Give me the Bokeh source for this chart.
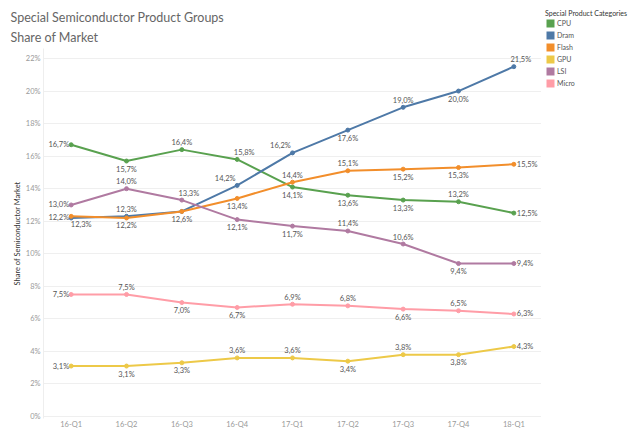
from bokeh.plotting import figure
from bokeh.layouts import row, column
from bokeh.models import (ColumnDataSource, FactorRange, Range1d, FixedTicker,
                          PrintfTickFormatter, Legend, LegendItem, Title)
from bokeh.core.properties import value
from bokeh.embed import file_html
from bokeh.resources import INLINE

quarters = ["16-Q1", "16-Q2", "16-Q3", "16-Q4", "17-Q1", "17-Q2", "17-Q3", "17-Q4", "18-Q1"]
categories = ["CPU", "Dram", "Flash", "GPU", "LSI", "Micro"]
cpu = [16.7, 15.7, 16.4, 15.8, 14.1, 13.6, 13.3, 13.2, 12.5]
dram = [12.2, 12.3, 12.6, 14.2, 16.2, 17.6, 19.0, 20.0, 21.5]
flash = [12.3, 12.2, 12.6, 13.4, 14.4, 15.1, 15.2, 15.3, 15.5]
gpu = [3.1, 3.1, 3.3, 3.6, 3.6, 3.4, 3.8, 3.8, 4.3]
lsi = [13.0, 14.0, 13.3, 12.1, 11.7, 11.4, 10.6, 9.4, 9.4]
micro = [7.5, 7.5, 7.0, 6.7, 6.9, 6.8, 6.6, 6.5, 6.3]
y_ticks = [0, 2, 4, 6, 8, 10, 12, 14, 16, 18, 20, 22]

series = [cpu, dram, flash, gpu, lsi, micro]
colors = ["#59a14f", "#4e79a7", "#f28e2b", "#edc948", "#b07aa1", "#ff9da7"]

# label placement per point (L=left, R=right, A=above, B=below, N=none)
placements = [
    ["L", "B", "A", "AR", "B", "B", "B", "A", "R"],
    ["L", "A", "B", "AL", "AL", "B", "A", "B", "AR"],
    ["BR", "B", "N", "B", "A", "A", "B", "B", "R"],
    ["L", "B", "B", "A", "A", "B", "A", "B", "R"],
    ["L", "A", "AR", "B", "B", "A", "A", "B", "R"],
    ["L", "A", "B", "B", "A", "A", "B", "A", "R"],
]
place_style = {
    "L": ("right", -2, 0),
    "R": ("left", 3, 0),
    "A": ("center", 0, -7),
    "B": ("center", 0, 8),
    "AL": ("center", -12, -7),
    "AR": ("center", 7, -7),
    "BR": ("center", 10, 8),
}

FONT = "Lato"

p = figure(width=541, height=436, x_range=FactorRange(factors=quarters),
           y_range=Range1d(-0.123, 22.615), output_backend="svg", toolbar_location=None,
           title=None, min_border_left=43, min_border_right=0,
           min_border_top=48, min_border_bottom=18)
p.outline_line_color = None
p.background_fill_color = "white"

# titles
p.add_layout(Title(text="Share of Market", align="left", offset=-33,
                   text_font=FONT, text_font_size="12.5px", text_font_style="normal",
                   text_color="#666666", standoff=8), "above")
p.add_layout(Title(text="Special Semiconductor Product Groups", align="left", offset=-33,
                   text_font=FONT, text_font_size="12.5px", text_font_style="normal",
                   text_color="#666666", standoff=-3), "above")

# axes
p.yaxis.ticker = FixedTicker(ticks=y_ticks)
p.yaxis.formatter = PrintfTickFormatter(format="%d%%")
p.yaxis.axis_label = "Share of Semiconductor Market"
p.yaxis.axis_label_text_font = FONT
p.yaxis.axis_label_text_font_size = "7.5px"
p.yaxis.axis_label_text_font_style = "normal"
p.yaxis.axis_label_text_color = "#333333"
p.yaxis.axis_label_standoff = 1
for ax in (p.xaxis[0], p.yaxis[0]):
    ax.major_label_text_font = FONT
    ax.major_label_text_font_size = "7.5px"
    ax.major_label_text_color = "#999999"
    ax.major_tick_line_color = None
    ax.minor_tick_line_color = None
    ax.major_tick_out = 0
    ax.major_tick_in = 0
p.yaxis.axis_line_color = "#eeeeee"
p.xaxis.axis_line_color = None
p.yaxis.major_label_standoff = 3
p.xaxis.major_label_standoff = 1
p.xgrid.grid_line_color = None
p.ygrid.grid_line_color = "#efefef"
p.ygrid.grid_line_width = 1

# lines and points
for vals, col in zip(series, colors):
    src = ColumnDataSource(dict(x=quarters, y=vals))
    p.line("x", "y", source=src, line_color=col, line_width=2)
    p.scatter("x", "y", source=src, size=4, fill_color=col, line_color=col)

# data labels
groups = {}
for vals, pl in zip(series, placements):
    for q, v, k in zip(quarters, vals, pl):
        if k == "N":
            continue
        g = groups.setdefault(k, dict(x=[], y=[], t=[]))
        g["x"].append(q)
        g["y"].append(v)
        g["t"].append(f"{v:.1f}".replace(".", ",") + "%")
for k, g in groups.items():
    align, dx, dy = place_style[k]
    p.text(x="x", y="y", text="t", source=ColumnDataSource(g),
           text_font=value(FONT), text_font_size="7.5px", text_color="#555555",
           text_align=align, text_baseline="middle", x_offset=dx, y_offset=dy)

# legend panel (separate small figure at the right)
lg = figure(width=99, height=436, x_range=Range1d(0, 1), y_range=Range1d(0, 1),
            output_backend="svg", toolbar_location=None, title=None,
            x_axis_location=None, y_axis_location=None,
            min_border_left=0, min_border_right=0, min_border_top=0, min_border_bottom=0)
lg.grid.visible = False
lg.outline_line_color = None
for fig in (p, lg):
    if "frame_align" in fig.properties():
        fig.frame_align = False
nan = float("nan")
items = []
for name, col in zip(categories, colors):
    r = lg.quad(left=[nan], right=[nan], top=[nan], bottom=[nan],
                fill_color=col, line_color=None)
    items.append(LegendItem(label=name, renderers=[r]))
legend = Legend(items=items, location=(4, 348), title="Special Product Categories",
                title_text_font=FONT, title_text_font_size="7px",
                title_text_color="#333333", title_text_font_style="normal",
                title_standoff=1,
                label_text_font=FONT, label_text_font_size="7px",
                label_text_color="#555555", glyph_width=10, glyph_height=10,
                label_height=8, spacing=2, padding=0, margin=0,
                label_standoff=2,
                border_line_alpha=0, background_fill_alpha=0)
lg.add_layout(legend, "center")

layout = row(p, column(lg))
open("out.html", "w").write(file_html(layout, INLINE))
